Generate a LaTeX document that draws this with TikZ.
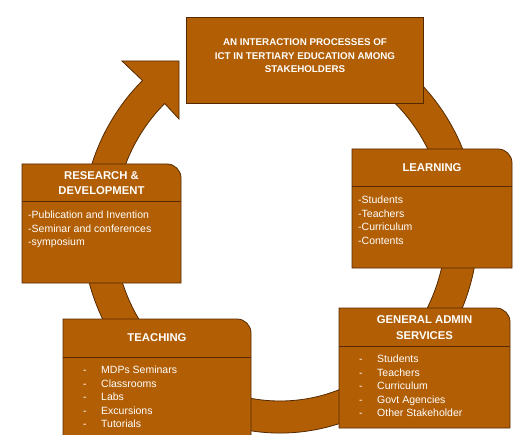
\documentclass[tikz,border=0pt]{standalone}
\usepackage{fontspec}
\setmainfont{Liberation Sans}
\usetikzlibrary{calc}
\definecolor{brn}{RGB}{178,94,4}
\definecolor{brd}{RGB}{85,42,0}

\begin{document}
\begin{tikzpicture}[x=1pt,y=1pt,
  card/.style={fill=brn,draw=brd,line width=0.8pt},
  hd/.style={text=white,font=\bfseries\fontsize{11.3}{15.5}\selectfont,align=center,inner sep=0pt},
  tx/.style={text=white,font=\fontsize{10.5}{13.4}\selectfont,align=left,anchor=north west,inner sep=0pt}]
  \useasboundingbox (0,0) rectangle (513,434);
  \clip (0,0) rectangle (513,434);
  \coordinate (c) at (280,206);

  % ring with the arrow head
  \filldraw[card] ($(c)+(70:198pt and 205pt)$) arc[start angle=70,end angle=-226,x radius=198pt,y radius=205pt]
    -- (122,373) -- (179,373) -- (179,315)
    -- ($(c)+(-226:166pt and 173pt)$) arc[start angle=-226,end angle=70,x radius=166pt,y radius=173pt] -- cycle;

  % title
  \draw[card] (186,331) rectangle (423,417);
  \node[hd,font=\bfseries\fontsize{9.8}{13.5}\selectfont] (ttl) at (305,378) {AN INTERACTION PROCESSES OF\\ICT IN TERTIARY EDUCATION AMONG\\STAKEHOLDERS};

  % research and development
  \draw[card] (22,151) -- (22,270) -- (167,270) arc[start angle=90,end angle=0,radius=14pt] -- (181,151) -- cycle;
  \draw[brd,line width=1pt] (22,232) -- (181,232);
  \node[hd] (rdh) at (101.5,251) {RESEARCH \&\\DEVELOPMENT};
  \node[tx] (rdb) at (28,223) {-Publication and Invention\\-Seminar and conferences\\-symposium};

  % learning
  \draw[card] (352,166) -- (352,285) -- (498,285) arc[start angle=90,end angle=0,radius=14pt] -- (512,166) -- cycle;
  \draw[brd,line width=1pt] (352,247) -- (512,247);
  \node[hd] (lrh) at (432,266) {LEARNING};
  \node[tx] (lrb) at (358,238) {-Students\\-Teachers\\-Curriculum\\-Contents};

  % teaching
  \draw[card] (63,-20) -- (63,115) -- (237,115) arc[start angle=90,end angle=0,radius=14pt] -- (251,-20) -- cycle;
  \draw[brd,line width=1pt] (63,77) -- (251,77);
  \node[hd] (tch) at (157,96) {TEACHING};
  \node[tx] (tcb) at (83,68) {\makebox[18pt][l]{-}MDPs Seminars\\\makebox[18pt][l]{-}Classrooms\\\makebox[18pt][l]{-}Labs\\\makebox[18pt][l]{-}Excursions\\\makebox[18pt][l]{-}Tutorials};

  % general admin
  \draw[card] (339,6) -- (339,126) -- (496,126) arc[start angle=90,end angle=0,radius=14pt] -- (510,6) -- cycle;
  \draw[brd,line width=1pt] (339,88) -- (510,88);
  \node[hd] (gah) at (424.5,106.5) {GENERAL ADMIN\\SERVICES};
  \node[tx] (gab) at (359,79) {\makebox[18pt][l]{-}Students\\\makebox[18pt][l]{-}Teachers\\\makebox[18pt][l]{-}Curriculum\\\makebox[18pt][l]{-}Govt Agencies\\\makebox[18pt][l]{-}Other Stakeholder};
\end{tikzpicture}
\end{document}
